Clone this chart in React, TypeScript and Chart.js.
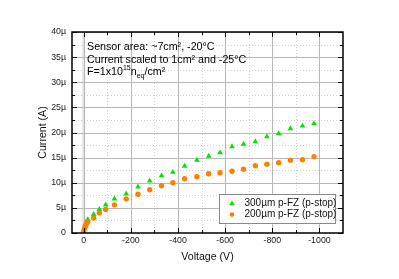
import React, { useEffect, useRef } from "react";
import { Chart, registerables } from "chart.js";

Chart.register(...registerables);

// ---------- data ----------
const voltages = [0, -3, -7, -12, -17, -42, -66, -93, -130, -180, -230, -280, -330, -378, -428, -480, -530, -578, -629, -678, -728, -777, -827, -877, -928, -977];
const current300 = [0.5, 1.2, 1.8, 2.3, 2.7, 3.7, 4.7, 5.6, 6.8, 7.8, 9.2, 10.4, 11.4, 12.1, 13.3, 14.5, 15.3, 16.0, 17.2, 17.7, 18.2, 19.2, 19.8, 20.8, 21.3, 21.8];
const current200 = [0.4, 0.9, 1.4, 1.9, 2.3, 3.0, 4.0, 4.7, 5.6, 6.8, 7.7, 8.6, 9.4, 10.0, 10.8, 11.2, 11.8, 12.0, 12.3, 12.7, 13.4, 13.7, 14.0, 14.5, 14.6, 15.2];

const seriesLabels = ["300µm p-FZ (p-stop)", "200µm p-FZ (p-stop)"];
const seriesColors = ["#00e600", "#ff7f00"];

const xMajorTicks = [0, -200, -400, -600, -800, -1000];
const xMinorTicks = [-100, -300, -500, -700, -900];
const yMajorTicks = [0, 5, 10, 15, 20, 25, 30, 35, 40];
const yMinorTicks = [2.5, 7.5, 12.5, 17.5, 22.5, 27.5, 32.5, 37.5];

const xTitle = "Voltage (V)";
const yTitle = "Current (A)";
const noteLines = ["Sensor area: ~7cm², -20°C", "Current scaled to 1cm² and -25°C"];
const fluence = { base: "F=1x10", exp: "15", unit: "n", sub: "eq", tail: "/cm²" };

const FONT = '"Liberation Sans", Arial, Helvetica, sans-serif';

const decorPlugin = {
  id: "decor",
  beforeDatasetsDraw(chart: any) {
    const { ctx, chartArea: a, scales } = chart;
    const x = scales.x, y = scales.y;
    ctx.save();
    ctx.beginPath();
    ctx.rect(a.left, a.top, a.right - a.left, a.bottom - a.top);
    ctx.clip();
    // minor dotted grid
    ctx.strokeStyle = "#d2d2d2";
    ctx.lineWidth = 1;
    ctx.setLineDash([1, 2]);
    for (const v of xMinorTicks) {
      const p = Math.round(x.getPixelForValue(v)) + 0.5;
      ctx.beginPath(); ctx.moveTo(p, a.top); ctx.lineTo(p, a.bottom); ctx.stroke();
    }
    for (const v of yMinorTicks) {
      const p = Math.round(y.getPixelForValue(v)) + 0.5;
      ctx.beginPath(); ctx.moveTo(a.left, p); ctx.lineTo(a.right, p); ctx.stroke();
    }
    ctx.setLineDash([]);
    // zero line
    const z = x.getPixelForValue(0);
    ctx.strokeStyle = "#e2e2e2";
    ctx.lineWidth = 3;
    ctx.beginPath(); ctx.moveTo(z, a.top); ctx.lineTo(z, a.bottom); ctx.stroke();
    // major grid
    ctx.strokeStyle = "#b8b8b8";
    ctx.lineWidth = 1;
    for (const v of xMajorTicks) {
      const p = Math.round(x.getPixelForValue(v)) + 0.5;
      ctx.beginPath(); ctx.moveTo(p, a.top); ctx.lineTo(p, a.bottom); ctx.stroke();
    }
    for (const v of yMajorTicks) {
      const p = Math.round(y.getPixelForValue(v)) + 0.5;
      ctx.beginPath(); ctx.moveTo(a.left, p); ctx.lineTo(a.right, p); ctx.stroke();
    }
    ctx.restore();
  },
  afterDatasetsDraw(chart: any) {
    const { ctx, chartArea: a, scales } = chart;
    const x = scales.x, y = scales.y;
    ctx.save();
    ctx.strokeStyle = "#000";
    ctx.lineWidth = 1;
    const tick = (list: number[], len: number) => {
      for (const v of list) {
        const px = Math.round(x.getPixelForValue(v)) + 0.5;
        ctx.beginPath(); ctx.moveTo(px, a.bottom); ctx.lineTo(px, a.bottom - len); ctx.stroke();
        ctx.beginPath(); ctx.moveTo(px, a.top); ctx.lineTo(px, a.top + len); ctx.stroke();
      }
    };
    const tickY = (list: number[], len: number) => {
      for (const v of list) {
        const py = Math.round(y.getPixelForValue(v)) + 0.5;
        ctx.beginPath(); ctx.moveTo(a.left, py); ctx.lineTo(a.left + len, py); ctx.stroke();
        ctx.beginPath(); ctx.moveTo(a.right, py); ctx.lineTo(a.right - len, py); ctx.stroke();
      }
    };
    tick(xMajorTicks, 5);
    tick(xMinorTicks, 3);
    tickY(yMajorTicks, 5);
    tickY(yMinorTicks, 3);
    ctx.lineWidth = 1.5;
    ctx.strokeRect(a.left, a.top, a.right - a.left, a.bottom - a.top);
    ctx.restore();
  },
  afterDraw(chart: any) {
    const { ctx } = chart;
    ctx.save();
    // annotation
    ctx.fillStyle = "#000";
    ctx.textBaseline = "middle";
    ctx.textAlign = "left";
    const big = `10.7px ${FONT}`;
    const small = `7px ${FONT}`;
    ctx.font = big;
    const tx = 87;
    ctx.fillText(noteLines[0], tx, 47.5);
    ctx.fillText(noteLines[1], tx, 60);
    let cx = tx;
    const ly = 72.5;
    ctx.fillText(fluence.base, cx, ly); cx += ctx.measureText(fluence.base).width;
    ctx.font = small;
    ctx.fillText(fluence.exp, cx, ly - 4); cx += ctx.measureText(fluence.exp).width;
    ctx.font = big;
    ctx.fillText(fluence.unit, cx, ly); cx += ctx.measureText(fluence.unit).width;
    ctx.font = small;
    ctx.fillText(fluence.sub, cx, ly + 4); cx += ctx.measureText(fluence.sub).width;
    ctx.font = big;
    ctx.fillText(fluence.tail, cx, ly);

    // legend
    const bx = 219, by = 194, bw = 116, bh = 29;
    ctx.fillStyle = "#fff";
    ctx.fillRect(bx, by, bw, bh);
    ctx.strokeStyle = "#8a8a8a";
    ctx.lineWidth = 1;
    ctx.strokeRect(bx + 0.5, by + 0.5, bw, bh);
    const rows = [203.5, 214.5];
    ctx.font = `10px ${FONT}`;
    rows.forEach((ry, i) => {
      ctx.fillStyle = seriesColors[i];
      const mx = 232;
      if (i === 0) {
        const r = 3;
        ctx.beginPath();
        ctx.moveTo(mx, ry - r);
        ctx.lineTo(mx + r * 0.866, ry + r * 0.5);
        ctx.lineTo(mx - r * 0.866, ry + r * 0.5);
        ctx.closePath();
        ctx.fill();
      } else {
        ctx.beginPath();
        ctx.arc(mx, ry, 2.3, 0, Math.PI * 2);
        ctx.fill();
      }
      ctx.fillStyle = "#111";
      ctx.fillText(seriesLabels[i], 244.5, ry);
    });
    ctx.restore();
  },
};

export default function App() {
  const ref = useRef<HTMLCanvasElement | null>(null);
  useEffect(() => {
    if (!ref.current) return;
    const tickFont = { family: FONT, size: 8.8 };
    const titleFont = { family: FONT, size: 10.6 };
    const chart = new Chart(ref.current, {
      type: "scatter",
      data: {
        datasets: [
          {
            label: seriesLabels[0],
            data: voltages.map((v, i) => ({ x: v, y: current300[i] })),
            pointStyle: "triangle",
            pointRadius: 3.3,
            backgroundColor: seriesColors[0],
            borderColor: seriesColors[0],
            borderWidth: 0,
            order: 1,
          },
          {
            label: seriesLabels[1],
            data: voltages.map((v, i) => ({ x: v, y: current200[i] })),
            pointStyle: "circle",
            pointRadius: 2.7,
            backgroundColor: seriesColors[1],
            borderColor: seriesColors[1],
            borderWidth: 0,
            order: 0,
          },
        ],
      },
      options: {
        responsive: false,
        animation: false,
        devicePixelRatio: 1,
        layout: { padding: { left: 0, right: 56, top: 32, bottom: 0 } },
        plugins: {
          legend: { display: false },
          tooltip: { enabled: false },
        },
        scales: {
          x: {
            type: "linear",
            min: -1100,
            max: 50,
            reverse: true,
            afterBuildTicks: (s: any) => {
              s.ticks = xMajorTicks.map((v) => ({ value: v }));
            },
            afterFit: (s: any) => {
              s.height = 46;
            },
            grid: { display: false, drawTicks: false },
            border: { display: false },
            ticks: {
              padding: 2,
              autoSkip: false,
              maxRotation: 0,
              color: "#222",
              font: tickFont,
              callback: (v: any) => String(v),
            },
            title: {
              display: true,
              text: xTitle,
              color: "#111",
              font: titleFont,
              padding: { top: 0, bottom: 16 },
            },
          },
          y: {
            type: "linear",
            min: 0,
            max: 40,
            afterBuildTicks: (s: any) => {
              s.ticks = yMajorTicks.map((v) => ({ value: v }));
            },
            afterFit: (s: any) => {
              s.width = 72;
            },
            grid: { display: false, drawTicks: false },
            border: { display: false },
            ticks: {
              padding: 6,
              color: "#222",
              font: tickFont,
              callback: (v: any) => (v === 0 ? "0" : `${v}µ`),
            },
            title: {
              display: true,
              text: yTitle,
              color: "#111",
              font: titleFont,
              padding: { top: 37, bottom: 0 },
            },
          },
        },
      },
      plugins: [decorPlugin],
    } as any);
    return () => chart.destroy();
  }, []);
  return (
    <div style={{ position: "fixed", left: 0, top: 0, width: 399, height: 279, background: "#fff" }}>
      <canvas ref={ref} width={399} height={279} style={{ display: "block", width: 399, height: 279 }} />
    </div>
  );
}
